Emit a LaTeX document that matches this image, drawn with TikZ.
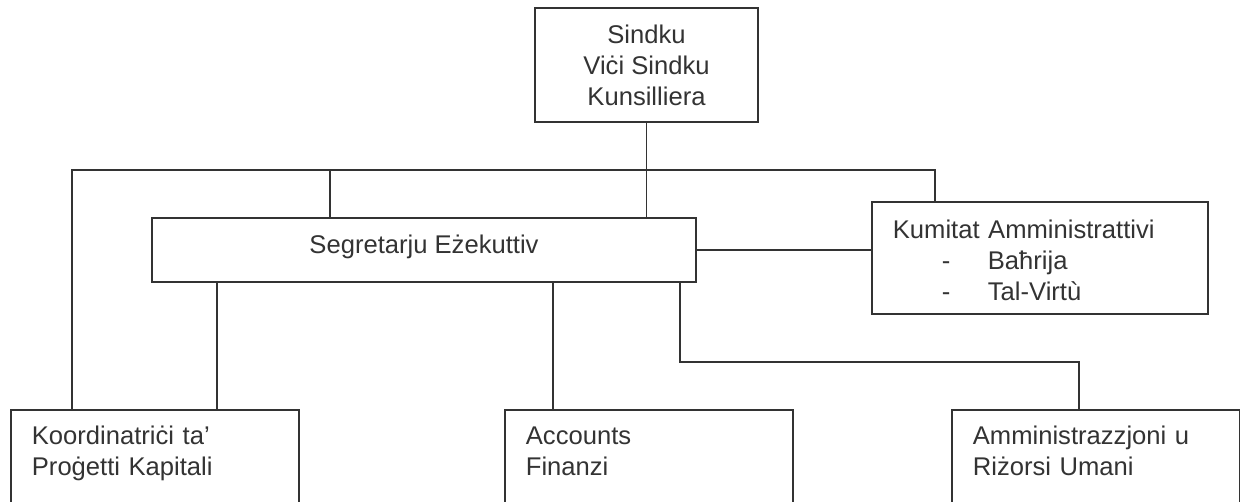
\documentclass[tikz,border=0pt]{standalone}
\usepackage{fontspec}
\setmainfont{Liberation Sans}
\begin{document}
\begin{tikzpicture}[x=0.5pt, y=-0.5pt,
	font=\fontsize{12.8}{15.5}\selectfont,
	box/.style={draw=black!80, line width=0.9pt, text=black!80, inner sep=0pt},
	unit/.style={box, anchor=north west, align=left, inner xsep=10.5pt, inner ysep=5.5pt,
		text width=123pt, text height=12pt, text depth=37.5pt},
	link/.style={draw=black!80, line width=0.9pt}]
		
		% --- FRAME ---
		\useasboundingbox (0,0) rectangle (1240,502);
		\clip (0,0) rectangle (1240,502);
		
		% --- TOP BOX ---
		\node[box, align=center, minimum width=111.5pt, minimum height=57pt] (sindku) at (646.5,65) {Sindku\\Viċi Sindku\\Kunsilliera};
		
		% --- SECOND ROW ---
		\node[box, minimum width=272pt, minimum height=32pt, text height=9pt, text depth=6pt] (segr) at (424,250) {Segretarju Eżekuttiv};
		\node[box, anchor=north west, align=left, inner xsep=10.5pt, inner ysep=6.5pt, text width=147pt,
			text height=12pt, text depth=31pt] (kumitat) at (871,201)
			{Kumitat Amministrattivi\\\hspace*{24.5pt}\makebox[23pt][l]{-}Baħrija\\\hspace*{24.5pt}\makebox[23pt][l]{-}Tal-Virtù};
		
		% --- BOTTOM ROW (cut at the page edge) ---
		\node[unit] (koord) at (10,409) {Koordinatriċi ta'\\Proġetti Kapitali};
		\node[unit] (accounts) at (504,409) {Accounts\\Finanzi};
		\node[unit] (amm) at (951,409) {Amministrazzjoni u\\Riżorsi Umani};
		
		% --- CONNECTORS ---
		\coordinate (busL) at (72,170);
		\coordinate (busM) at (330,170);
		\coordinate (busR) at (935,170);
		\coordinate (dropA) at (217,0);
		\coordinate (dropB) at (553,0);
		\coordinate (elbow) at (680,362);
		\coordinate (elbowR) at (1079,362);
		
		\draw[link] (sindku.south) -- (sindku.south |- segr.north);
		\draw[link] (busL |- koord.north) -- (busL) -- (busR) -- (busR |- kumitat.north);
		\draw[link] (busM) -- (busM |- segr.north);
		\draw[link] (segr.east) -- (segr.east -| kumitat.west);
		\draw[link] (segr.south -| dropA) -- (koord.north -| dropA);
		\draw[link] (segr.south -| dropB) -- (accounts.north -| dropB);
		\draw[link] (segr.south -| elbow) -- (elbow) -- (elbowR) -- (amm.north -| elbowR);
		
	\end{tikzpicture}
\end{document}
